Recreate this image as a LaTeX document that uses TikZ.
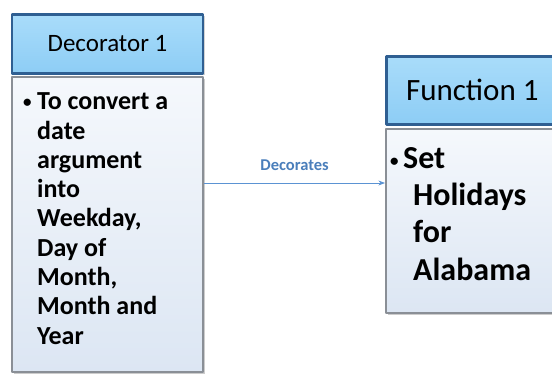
\documentclass[tikz,border=0pt]{standalone}
\usepackage{fontspec}
\setmainfont{Carlito}
\usetikzlibrary{positioning,shadows,arrows.meta}
\definecolor{hdrfill}{HTML}{8DCDF5}
\definecolor{hdrtop}{HTML}{A9DCFA}
\definecolor{hdredge}{HTML}{2F5F92}
\definecolor{bodyedge}{HTML}{8A8F96}
\definecolor{bodytop}{HTML}{F5F8FC}
\definecolor{bodybot}{HTML}{DCE6F3}
\definecolor{linkblue}{HTML}{5B93D3}
\definecolor{labelblue}{HTML}{4A7EBB}
\newcommand{\bulletmark}[1]{\makebox[#1][l]{\fontsize{17}{17}\selectfont\raisebox{2pt}{\textbullet}}}
\tikzset{
  hdrbox/.style={rectangle, draw=hdredge, line width=2.6pt, top color=hdrtop, bottom color=hdrfill,
    drop shadow={shadow xshift=1.5pt, shadow yshift=-1.5pt, opacity=.35}},
  bodybox/.style={rectangle, draw=bodyedge, line width=2.2pt, top color=bodytop, bottom color=bodybot,
    drop shadow={shadow xshift=2pt, shadow yshift=-2pt, opacity=.4}},
  bodytext/.style={inner sep=0pt, anchor=north west},
}
\begin{document}
\begin{tikzpicture}[x=1pt, y=-1pt, line join=round, >=Stealth]
  \useasboundingbox (0,0) rectangle (552,379);
  % decorator side
  \node[hdrbox, minimum width=191pt, minimum height=59pt, font=\fontsize{25}{30}\selectfont] (dechead) at (107.5,44)
    {Decorator 1};
  \node[bodybox, minimum width=191pt, minimum height=295pt] (decbody) at (107.5,224.5) {};
  \node[bodytext, font=\bfseries\fontsize{26}{29.3}\selectfont] (dectext) at (23,89)
    {\begin{tabular}{@{}l@{}l@{}}
     \bulletmark{14pt} & To convert a\\ & date\\ & argument\\ & into\\ & Weekday,\\
     & Day of\\ & Month,\\ & Month and\\ & Year
     \end{tabular}};
  % function side
  \node[hdrbox, minimum width=180pt, minimum height=68pt, anchor=north west, font=\fontsize{31}{36}\selectfont] (funhead) at (385,55)
    {\hspace*{-8pt}Function 1};
  \node[bodybox, minimum width=180pt, minimum height=184pt, anchor=north west] (funbody) at (385,128) {};
  \node[bodytext, font=\bfseries\fontsize{32}{37.3}\selectfont] (funtext) at (390,142)
    {\begin{tabular}{@{}l@{}l@{}}
     \multicolumn{2}{@{}l@{}}{\bulletmark{13pt}Set}\\
     \hspace*{23pt} & Holidays\\ & for\\ & Alabama
     \end{tabular}};
  % link
  \coordinate (tip) at (funbody.west |- 0,183);
  \draw[->, linkblue, line width=.8pt] (decbody.east |- tip) -- node[above=9pt, font=\bfseries\fontsize{16.5}{18}\selectfont, text=labelblue] (declabel) {Decorates} (tip);
\end{tikzpicture}
\end{document}
